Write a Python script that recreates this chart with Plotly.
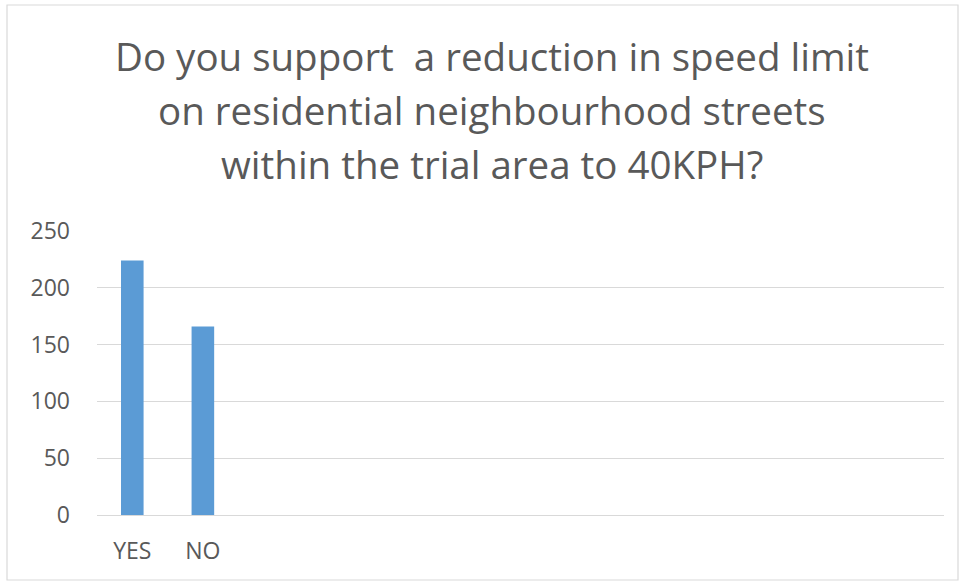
import plotly.graph_objects as go

# survey answers (12 category slots on the axis, only two used)
categories = ["YES", "NO"]
responses = [224, 166]
n_slots = 12

title_lines = [
    "Do you support  a reduction in speed limit",
    "on residential neighbourhood streets",
    "within the trial area to 40KPH?",
]
y_ticks = [0, 50, 100, 150, 200, 250]

W, H = 964, 588
L, R, T, B = 97, 20, 231, 73
pw = W - L - R
ph = H - T - B

GREY = "#595959"
GRID = "#d9d9d9"
FONT = "'Open Sans', Lato, sans-serif"

fig = go.Figure()
fig.add_trace(go.Bar(
    x=list(range(len(categories))), y=responses,
    width=0.32, marker=dict(color="#5B9BD5", line=dict(width=0)),
    hoverinfo="y",
))

# title, one line per annotation so the Excel-like line spacing can be kept
for i, line in enumerate(title_lines):
    fig.add_annotation(
        text=line, xref="paper", yref="paper",
        x=(492 - L) / pw, y=(H - B - (55.5 + i * 54.3)) / ph,
        xanchor="center", yanchor="middle", showarrow=False,
        font=dict(family=FONT, size=38.5, color=GREY),
    )

# light chart-area border
fig.add_shape(
    type="rect", xref="paper", yref="paper",
    x0=(7 - L) / pw, x1=(958 - L) / pw,
    y0=(H - B - 580) / ph, y1=(H - B - 5) / ph,
    line=dict(color=GRID, width=1.2), layer="below",
)

fig.update_layout(
    width=W, height=H,
    margin=dict(l=L, r=R, t=T, b=B),
    paper_bgcolor="white", plot_bgcolor="white",
    showlegend=False,
    font=dict(family=FONT, color=GREY),
    xaxis=dict(
        range=[-0.5, n_slots - 0.5],
        tickvals=list(range(len(categories))), ticktext=categories,
        showgrid=False, zeroline=False, showline=False,
        ticks="", ticklabelstandoff=20,
        tickfont=dict(size=23, color=GREY),
        fixedrange=True,
    ),
    yaxis=dict(
        range=[0, 250], tickvals=y_ticks,
        showgrid=True, gridcolor=GRID, gridwidth=1.2,
        zeroline=True, zerolinecolor=GRID, zerolinewidth=1.2,
        showline=False, ticks="", ticklabelstandoff=26,
        tickfont=dict(size=23, color=GREY),
        fixedrange=True,
    ),
)

# page body has an 8px default margin; drop it so the figure sits at 0,0
fig.write_html(
    "out.html",
    config={"displayModeBar": False},
    post_script="document.body.style.margin = '0';",
)
